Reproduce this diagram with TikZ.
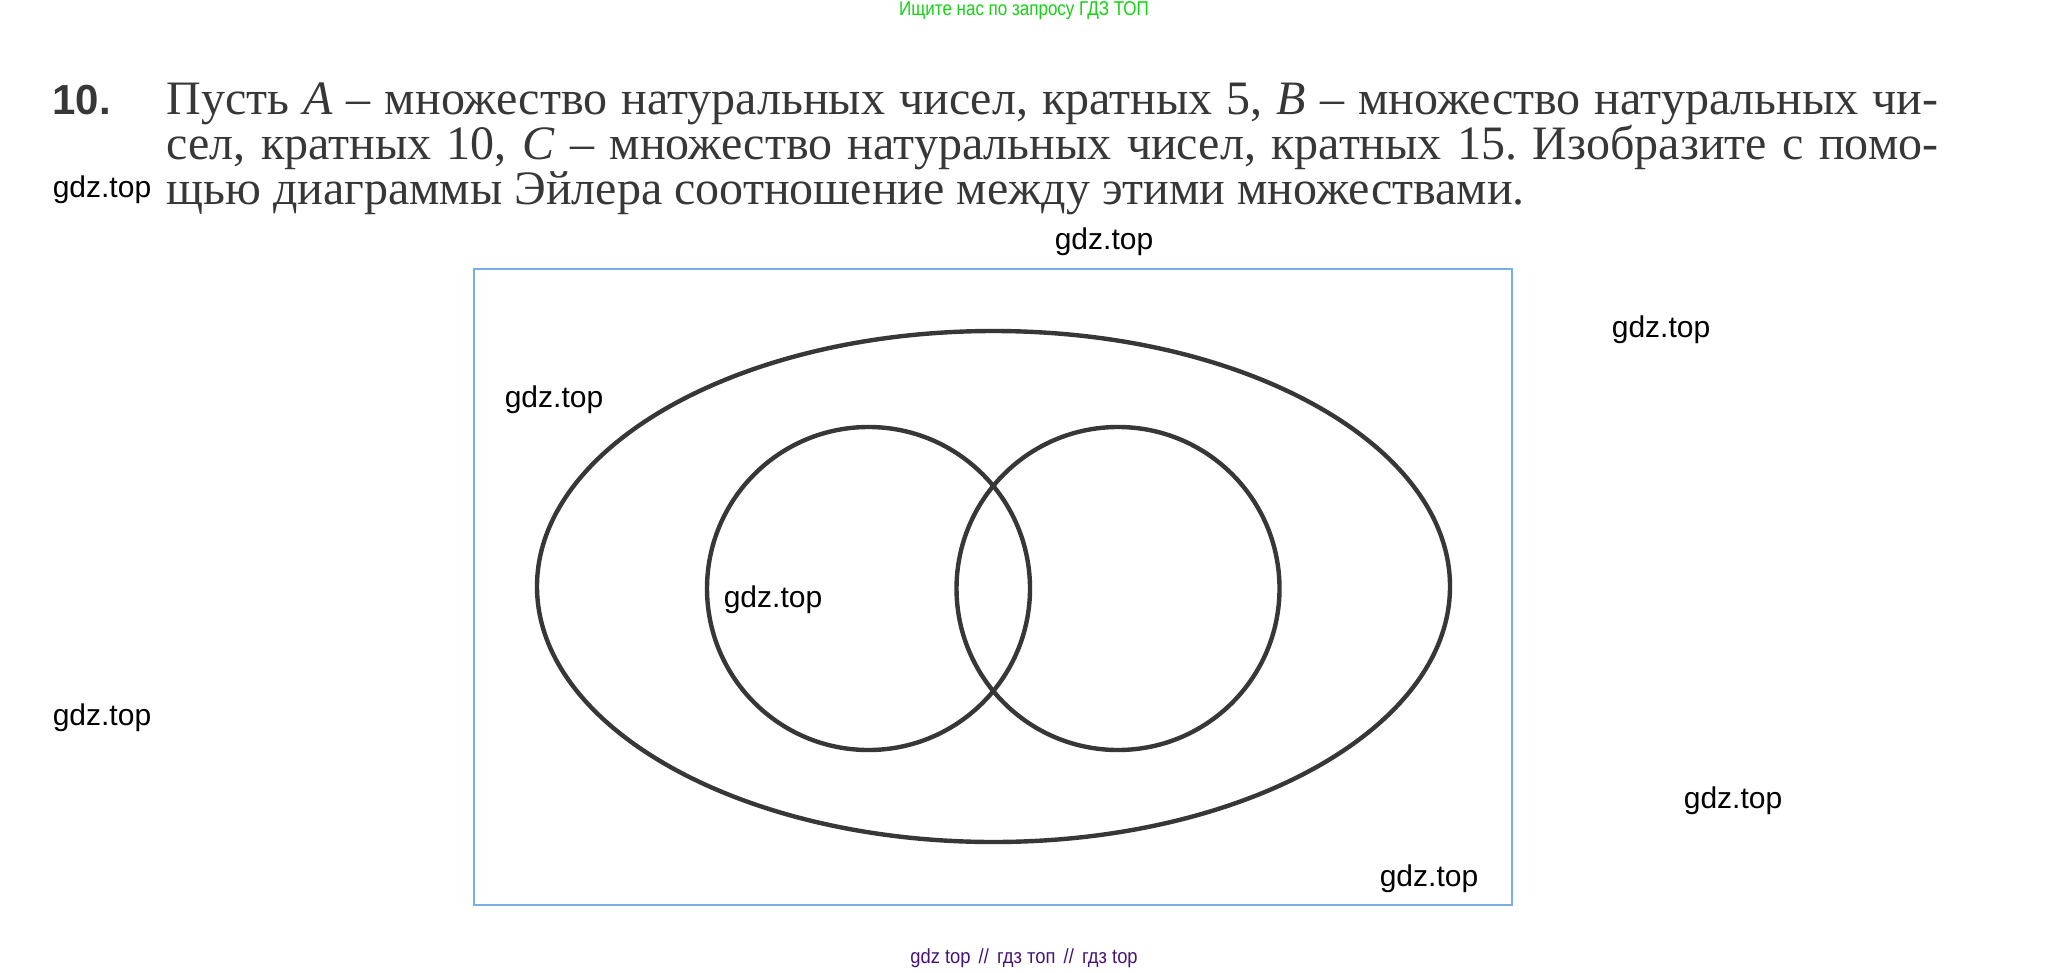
\documentclass[tikz,border=0pt]{standalone}
\usepackage{fontspec}
\setmainfont{Liberation Serif}
\newfontfamily\wmfont{Liberation Sans}
\frenchspacing
\definecolor{txt}{RGB}{55,55,55}
\definecolor{wmgreen}{RGB}{20,210,20}
\definecolor{wmpurple}{RGB}{70,20,120}
\definecolor{frameblue}{RGB}{120,175,230}
\definecolor{ellgray}{RGB}{55,55,55}
\tikzset{
  wm/.style={font=\wmfont\fontsize{15}{18}\selectfont, text=black, inner sep=0pt},
  mainline/.style={anchor=base west, inner sep=0pt, text=txt, font=\fontsize{24}{28}\selectfont},
  setell/.style={draw=ellgray, line width=2.2pt},
}
\begin{document}
\begin{tikzpicture}[x=0.5pt,y=-0.5pt]
\useasboundingbox (0,0) rectangle (2048,973);
\fill[white] (0,0) rectangle (2048,973);
% header
\node[inner sep=0pt, text=wmgreen, font=\wmfont\fontsize{10}{12}\selectfont, xscale=0.85] (hdr) at (1024,11) {Ищите нас по запросу ГДЗ ТОП};
% problem
\node[anchor=base west, inner sep=0pt, text=txt, font=\wmfont\bfseries\fontsize{21}{24}\selectfont] (num) at (52,115) {10.};
\node[mainline] (l1) at (166,115) {\makebox[886pt][s]{Пусть \textit{A} – множество натуральных чисел, кратных 5, \textit{B} – множество натуральных чи-}};
\node[mainline] (l2) at (166,160) {\makebox[886pt][s]{сел, кратных 10, \textit{C} – множество натуральных чисел, кратных 15. Изобразите с помо-}};
\node[mainline] (l3) at (166,205) {щью диаграммы Эйлера соотношение между этими множествами.};
% frame
\draw[frameblue, line width=1pt] (474,269) rectangle (1512,905);
% ellipses
\draw[setell] (993.5,586.5) ellipse [x radius=456.5, y radius=255.5];
\draw[setell] (868.5,588.5) circle [radius=161.5];
\draw[setell] (1118,588.5) circle [radius=161.5];
% watermarks
\node[wm] (w1) at (102,190) {gdz.top};
\node[wm] (w2) at (1104,242) {gdz.top};
\node[wm] (w3) at (1661,330) {gdz.top};
\node[wm] (w4) at (554,400) {gdz.top};
\node[wm] (w5) at (773,600) {gdz.top};
\node[wm] (w6) at (102,718) {gdz.top};
\node[wm] (w7) at (1733,801) {gdz.top};
\node[wm] (w8) at (1429,879) {gdz.top};
% footer
\node[inner sep=0pt, text=wmpurple, font=\wmfont\fontsize{10.2}{12}\selectfont, xscale=0.9] (ftr) at (1024,958) {gdz top \,//\, гдз топ \,//\, гдз top};
\end{tikzpicture}
\end{document}
